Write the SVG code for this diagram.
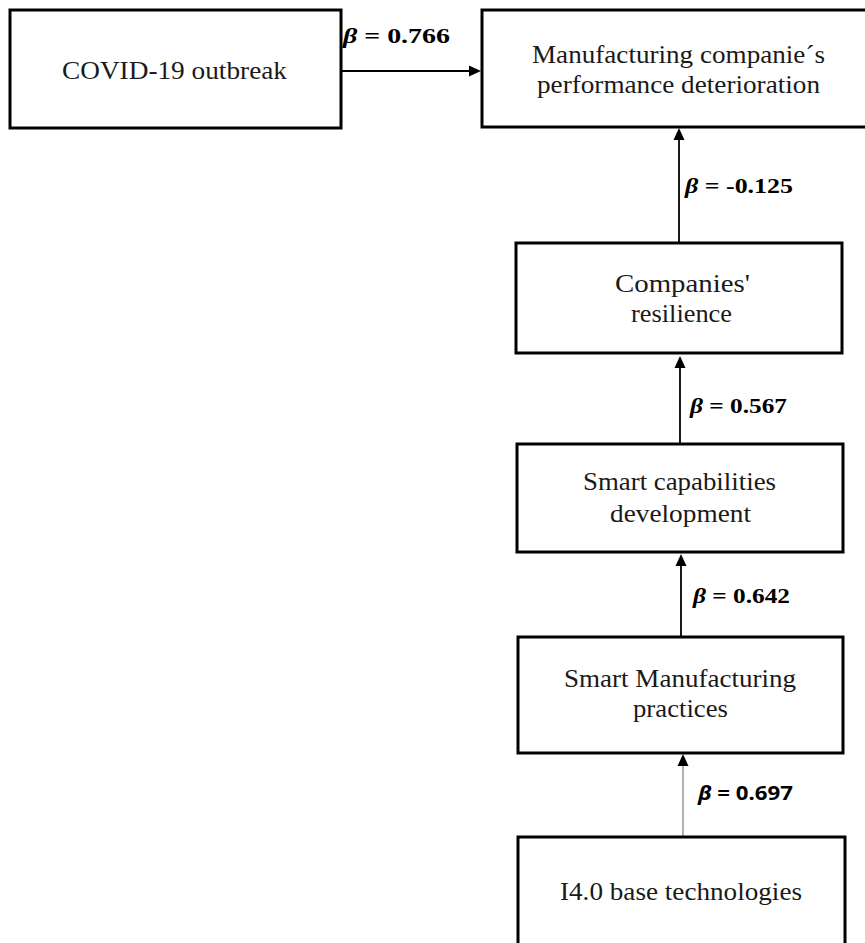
<svg xmlns="http://www.w3.org/2000/svg" width="865" height="943" viewBox="0 0 865 943">
<style>
.box{fill:#fff;stroke:#000;stroke-width:3}
.t{font-family:"Liberation Serif","Times New Roman",serif;font-size:26px;fill:#1a1a1a;text-anchor:middle}
.lb{font-family:"Liberation Serif","Times New Roman",serif;font-size:21px;font-weight:bold;fill:#000}
.lbs{font-family:"Noto Sans","Liberation Sans",sans-serif;font-size:20px;font-weight:bold;fill:#000}
.c{stroke:#000;stroke-width:1.8;fill:none}
.cg{stroke:#7f7f7f;stroke-width:1.2;fill:none}
.ah{fill:#000}
</style>
<rect width="865" height="943" fill="#fff"/>
<g id="connectors">
<line class="c" x1="341" y1="71" x2="470" y2="71"/>
<polygon class="ah" points="481,71 469,65.5 469,76.5"/>
<line class="c" x1="679" y1="242" x2="679" y2="138"/>
<polygon class="ah" points="679,128 673.5,140 684.5,140"/>
<line class="c" x1="680" y1="444" x2="680" y2="367"/>
<polygon class="ah" points="680,356 674.5,368 685.5,368"/>
<line class="c" x1="681" y1="637" x2="681" y2="565"/>
<polygon class="ah" points="681,554 675.5,566 686.5,566"/>
<line class="cg" x1="683" y1="837" x2="683" y2="764"/>
<polygon class="ah" points="683,754 677.5,766 688.5,766"/>
<text class="lb" x="343" y="43" textLength="107" lengthAdjust="spacingAndGlyphs"><tspan font-style="italic">β</tspan> = 0.766</text>
<text class="lb" x="685" y="193" textLength="108" lengthAdjust="spacingAndGlyphs"><tspan font-style="italic">β</tspan> = -0.125</text>
<text class="lb" x="690" y="413" textLength="97" lengthAdjust="spacingAndGlyphs"><tspan font-style="italic">β</tspan> = 0.567</text>
<text class="lb" x="693" y="603" textLength="97" lengthAdjust="spacingAndGlyphs"><tspan font-style="italic">β</tspan> = 0.642</text>
<text class="lbs" x="698" y="800" textLength="95" lengthAdjust="spacingAndGlyphs"><tspan font-style="italic">β</tspan> = 0.697</text>
</g>
<g id="covid">
<rect class="box" x="10" y="10" width="331" height="118"/>
<text class="t" x="174.5" y="79" textLength="225" lengthAdjust="spacingAndGlyphs">COVID-19 outbreak</text>
</g>
<g id="performance">
<rect class="box" x="482" y="10" width="386" height="117"/>
<text class="t" x="678.5" y="63" textLength="293" lengthAdjust="spacingAndGlyphs">Manufacturing companie´s</text>
<text class="t" x="678.5" y="93" textLength="283" lengthAdjust="spacingAndGlyphs">performance deterioration</text>
</g>
<g id="resilience">
<rect class="box" x="516" y="243" width="326" height="110"/>
<text class="t" x="682.5" y="292" textLength="135" lengthAdjust="spacingAndGlyphs">Companies'</text>
<text class="t" x="681.5" y="322" textLength="101" lengthAdjust="spacingAndGlyphs">resilience</text>
</g>
<g id="capabilities">
<rect class="box" x="517" y="444" width="326" height="108"/>
<text class="t" x="679.5" y="490" textLength="193" lengthAdjust="spacingAndGlyphs">Smart capabilities</text>
<text class="t" x="680.5" y="522" textLength="141" lengthAdjust="spacingAndGlyphs">development</text>
</g>
<g id="practices">
<rect class="box" x="518" y="637" width="325" height="116"/>
<text class="t" x="680" y="687" textLength="232" lengthAdjust="spacingAndGlyphs">Smart Manufacturing</text>
<text class="t" x="680.5" y="717" textLength="95" lengthAdjust="spacingAndGlyphs">practices</text>
</g>
<g id="technologies">
<rect class="box" x="518" y="837" width="327" height="108"/>
<text class="t" x="681" y="900" textLength="242" lengthAdjust="spacingAndGlyphs">I4.0 base technologies</text>
</g>
</svg>
